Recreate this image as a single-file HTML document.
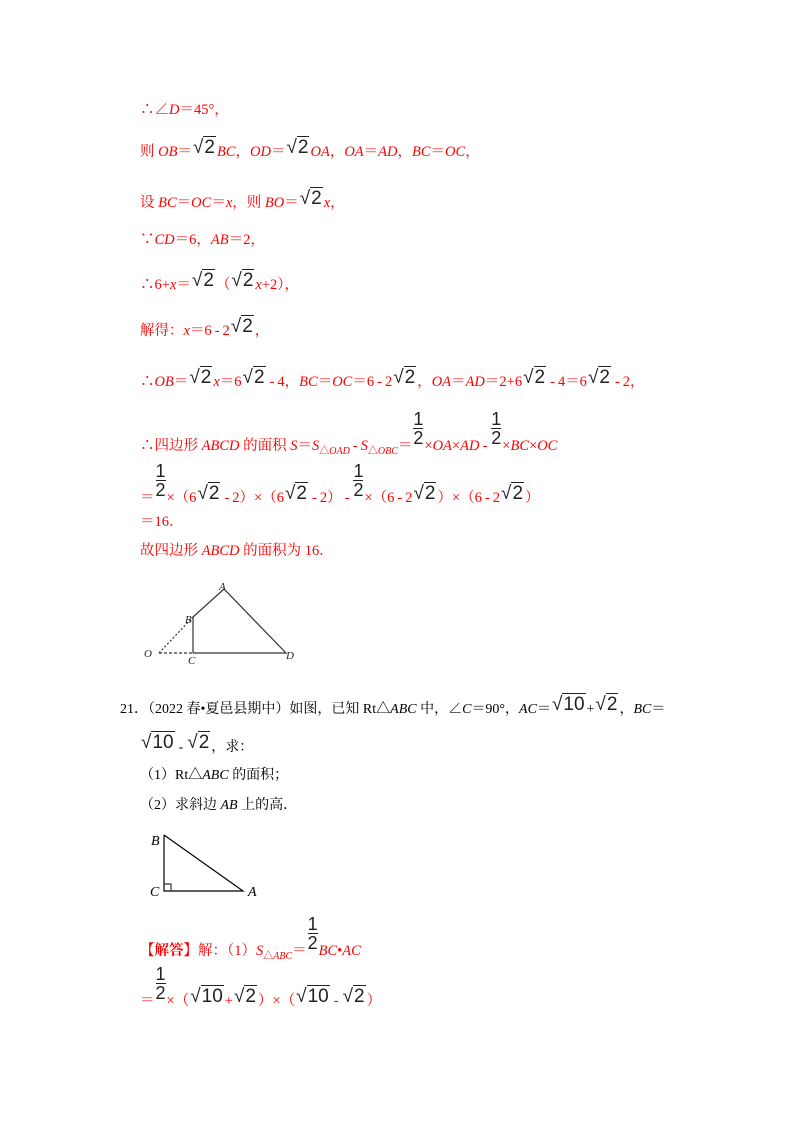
<!DOCTYPE html>
<html><head><meta charset="utf-8">
<style>
body{margin:0;background:#fff;width:800px;height:1132px;position:relative;overflow:hidden;font-family:"Liberation Serif","Noto Serif CJK SC",serif;font-size:14.5px;}
.l{position:absolute;white-space:nowrap;color:#f00;line-height:18px;}
.k{color:#000;font-size:14px}
i{font-style:italic}
.r{color:#222;font-family:"Liberation Sans","DejaVu Sans",sans-serif;font-size:19px;position:relative;top:-3px;padding:0 1px}
.o{border-top:1.2px solid #222;padding:0 1px}
.f{display:inline-block;position:relative;width:12px;height:18px}
.f b{position:absolute;left:1px;font-weight:normal;color:#222;font-family:"Liberation Sans",sans-serif;font-size:18px}
.f .n{top:-22px;border-bottom:1.2px solid #222;line-height:18px}
.f .d{top:-3px;line-height:18px}
sub{font-size:10px}
.m{padding:0 3px}
</style></head><body>
<div class="l" style="left:140px;top:101px">∴∠<i>D</i>＝45°，</div>
<div class="l" style="left:140px;top:142px">则 <i>OB</i>＝<span class="r">√<span class="o">2</span></span><i>BC</i>，<i>OD</i>＝<span class="r">√<span class="o">2</span></span><i>OA</i>，<i>OA</i>＝<i>AD</i>，<i>BC</i>＝<i>OC</i>，</div>
<div class="l" style="left:140px;top:193px">设 <i>BC</i>＝<i>OC</i>＝<i>x</i>，则 <i>BO</i>＝<span class="r">√<span class="o">2</span></span><i>x</i>，</div>
<div class="l" style="left:140px;top:231px">∵<i>CD</i>＝6，<i>AB</i>＝2，</div>
<div class="l" style="left:140px;top:275px">∴6+<i>x</i>＝<span class="r">√<span class="o">2</span></span>（<span class="r">√<span class="o">2</span></span><i>x</i>+2），</div>
<div class="l" style="left:140px;top:321px">解得：<i>x</i>＝6<span class="m">-</span>2<span class="r">√<span class="o">2</span></span>，</div>
<div class="l" style="left:140px;top:372px">∴<i>OB</i>＝<span class="r">√<span class="o">2</span></span><i>x</i>＝6<span class="r">√<span class="o">2</span></span><span class="m">-</span>4，<i>BC</i>＝<i>OC</i>＝6<span class="m">-</span>2<span class="r">√<span class="o">2</span></span>，<i>OA</i>＝<i>AD</i>＝2+6<span class="r">√<span class="o">2</span></span><span class="m">-</span>4＝6<span class="r">√<span class="o">2</span></span><span class="m">-</span>2，</div>
<div class="l" style="left:140px;top:432px">∴四边形 <i>ABCD</i> 的面积 <i>S</i>＝<i>S</i><sub>△<i>OAD</i></sub><span class="m">-</span><i>S</i><sub>△<i>OBC</i></sub>＝<span class="f"><b class="n">1</b><b class="d">2</b></span>×<i>OA</i>×<i>AD</i><span class="m">-</span><span class="f"><b class="n">1</b><b class="d">2</b></span>×<i>BC</i>×<i>OC</i></div>
<div class="l" style="left:140px;top:484px">＝<span class="f"><b class="n">1</b><b class="d">2</b></span>×（6<span class="r">√<span class="o">2</span></span><span class="m">-</span>2）×（6<span class="r">√<span class="o">2</span></span><span class="m">-</span>2）<span class="m">-</span><span class="f"><b class="n">1</b><b class="d">2</b></span>×（6<span class="m">-</span>2<span class="r">√<span class="o">2</span></span>）×（6<span class="m">-</span>2<span class="r">√<span class="o">2</span></span>）</div>
<div class="l" style="left:140px;top:513px">＝16．</div>
<div class="l" style="left:140px;top:542px">故四边形 <i>ABCD</i> 的面积为 16．</div>

<svg style="position:absolute;left:0;top:0" width="800" height="1132">
<g stroke="#333" stroke-width="1.2" fill="none">
<line x1="159" y1="653" x2="193" y2="617" stroke-dasharray="2,2"/>
<line x1="159" y1="653" x2="193" y2="653" stroke-dasharray="3,2"/>
<polyline points="193,653 193,617 224,589 286,653 193,653"/>
<polyline points="164,835 164,891 243,891 164,835" stroke="#000"/>
<polyline points="164,884 171,884 171,891"/>
</g>
<g font-family="Liberation Serif" font-style="italic" font-size="11" fill="#222">
<text x="219" y="590">A</text><text x="185" y="623">B</text><text x="144" y="657">O</text><text x="188" y="664">C</text><text x="286" y="659">D</text>
</g>
<g font-family="Liberation Serif" font-style="italic" font-size="14" fill="#000">
<text x="151" y="845">B</text><text x="150" y="896">C</text><text x="248" y="896">A</text>
</g>
</svg>

<div class="l k" style="left:120px;top:699px">21．（2022 春•夏邑县期中）如图，已知 Rt△<i>ABC</i> 中，∠<i>C</i>＝90°，<i>AC</i>＝<span class="r">√<span class="o">10</span></span>+<span class="r">√<span class="o">2</span></span>，<i>BC</i>＝</div>
<div class="l k" style="left:140px;top:737px"><span class="r">√<span class="o">10</span></span><span class="m">-</span><span class="r">√<span class="o">2</span></span>，求：</div>
<div class="l k" style="left:140px;top:767px">（1）Rt△<i>ABC</i> 的面积；</div>
<div class="l k" style="left:140px;top:797px">（2）求斜边 <i>AB</i> 上的高．</div>
<div class="l" style="left:140px;top:937px"><b>【解答】</b>解：（1）<i>S</i><sub>△<i>ABC</i></sub>＝<span class="f"><b class="n">1</b><b class="d">2</b></span><i>BC</i>•<i>AC</i></div>
<div class="l" style="left:140px;top:987px">＝<span class="f"><b class="n">1</b><b class="d">2</b></span>×（<span class="r">√<span class="o">10</span></span>+<span class="r">√<span class="o">2</span></span>）×（<span class="r">√<span class="o">10</span></span><span class="m">-</span><span class="r">√<span class="o">2</span></span>）</div>
</body></html>
